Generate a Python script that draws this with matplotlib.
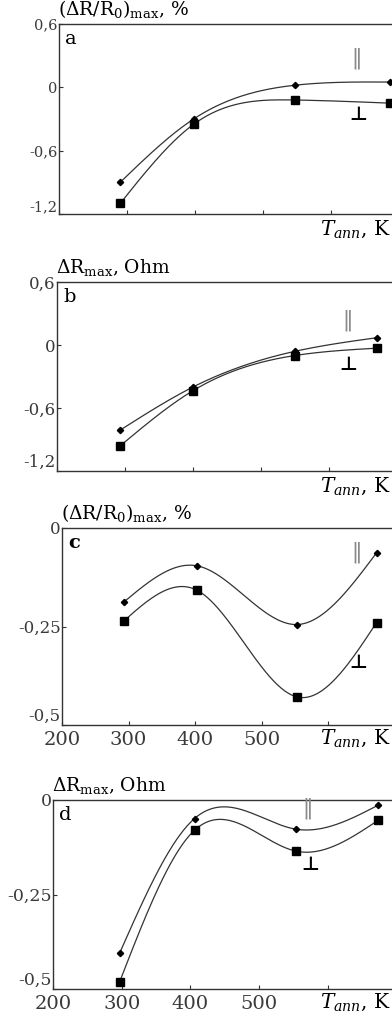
"""
Annealing temperature dependence of max magnetoresistance, four stacked panels.
"""

import numpy as np
import matplotlib
matplotlib.use("Agg")
import matplotlib.pyplot as plt

plt.rcParams["font.family"] = ["DejaVu Serif", "DejaVu Sans"]
plt.rcParams["mathtext.fontset"] = "dejavuserif"

# annealing temperatures, K (read per panel)
t_a = [290, 398, 547, 687]
t_b = [293, 400, 550, 671]
t_c = [293, 403, 554, 673]
t_d = [297, 406, 553, 673]

# parallel (||) and perpendicular (_|_) series
par_a = [-0.90, -0.30, 0.02, 0.05]
perp_a = [-1.10, -0.35, -0.12, -0.15]
par_b = [-0.81, -0.40, -0.06, 0.07]
perp_b = [-0.96, -0.435, -0.10, -0.03]
par_c = [-0.188, -0.096, -0.245, -0.063]
perp_c = [-0.236, -0.158, -0.429, -0.240]
par_d = [-0.405, -0.049, -0.077, -0.014]
perp_d = [-0.481, -0.080, -0.135, -0.054]

ylabels = [r"$(\Delta\mathrm{R/R_0})_{\mathrm{max}}$, %",
           r"$\Delta\mathrm{R}_{\mathrm{max}}$, Ohm",
           r"$(\Delta\mathrm{R/R_0})_{\mathrm{max}}$, %",
           r"$\Delta\mathrm{R}_{\mathrm{max}}$, Ohm"]
panel_tags = ["a", "b", "c", "d"]
yticks_ab = [-1.2, -0.6, 0, 0.6]
yticklabels_ab = ["-1,2", "-0,6", "0", "0,6"]
yticks_cd = [-0.5, -0.25, 0]
yticklabels_cd = ["-0,5", "-0,25", "0"]
xticks = [200, 300, 400, 500, 600]
xticklabels = ["200", "300", "400", "500", ""]


def natural_spline(x, y, num=300):
    """Smooth curve through the measured points (natural cubic spline)."""
    x = np.asarray(x, float)
    y = np.asarray(y, float)
    n = len(x)
    h = np.diff(x)
    A = np.zeros((n, n))
    rhs = np.zeros(n)
    A[0, 0] = A[-1, -1] = 1.0
    for i in range(1, n - 1):
        A[i, i - 1] = h[i - 1]
        A[i, i] = 2 * (h[i - 1] + h[i])
        A[i, i + 1] = h[i]
        rhs[i] = 3 * ((y[i + 1] - y[i]) / h[i] - (y[i] - y[i - 1]) / h[i - 1])
    c = np.linalg.solve(A, rhs)
    xs = np.linspace(x[0], x[-1], num)
    idx = np.clip(np.searchsorted(x, xs) - 1, 0, n - 2)
    dx = xs - x[idx]
    b = (y[1:] - y[:-1]) / h - h * (2 * c[:-1] + c[1:]) / 3
    d = (c[1:] - c[:-1]) / (3 * h)
    ys = y[idx] + b[idx] * dx + c[idx] * dx ** 2 + d[idx] * dx ** 3
    return xs, ys


W, H = 392, 1025
fig = plt.figure(figsize=(W / 100, H / 100), dpi=100)

# pixel geometry: left, top, bottom, px per 100 K
geom = [(59, 24, 214, 68.0), (57, 282, 471, 68.0),
        (62, 528, 725, 66.5), (53, 800, 989, 68.7)]
series = [(t_a, par_a, perp_a), (t_b, par_b, perp_b),
          (t_c, par_c, perp_c), (t_d, par_d, perp_d)]
sym_pos = [((357, 58), (358, 114)), ((348, 320), (348, 365)),
           ((357, 552), (358, 663)), ((308, 808), (310, 865))]
ytick_size = [10.5, 12, 12, 12.5]
xtick_size = 14

line_col = "#333333"
for k, ((left, top, bottom, ppx), (t, par, perp)) in enumerate(zip(geom, series)):
    right = W + 8
    ax = fig.add_axes([left / W, 1 - bottom / H, (right - left) / W, (bottom - top) / H])
    ax.set_xlim(200, 200 + (right - left) / ppx * 100)
    if k < 2:
        ax.set_ylim(-1.2, 0.6)
        ax.set_yticks(yticks_ab)
        ax.set_yticklabels(yticklabels_ab)
    else:
        ax.set_ylim(-0.5, 0)
        ax.set_yticks(yticks_cd)
        ax.set_yticklabels(yticklabels_cd)
    ax.set_xticks(xticks)
    if k >= 2:
        ax.set_xticklabels(xticklabels)
    else:
        ax.set_xticklabels([""] * len(xticks))

    for s in ax.spines.values():
        s.set_color(line_col)
        s.set_linewidth(1.0)
    ax.tick_params(direction="in", length=3, width=0.8, colors=line_col,
                   labelcolor="#3a3a3a", pad=2)
    ax.tick_params(axis="y", labelsize=ytick_size[k], pad=1)
    ax.tick_params(axis="x", labelsize=xtick_size, pad=4)
    # lowest y label sits just above the bottom spine
    ax.get_yticklabels()[0].set_va("bottom")

    xs, ys = natural_spline(t, par)
    ax.plot(xs, ys, color=line_col, lw=0.9)
    ax.plot(t, par, "D", color="black", ms=3.2, lw=0)
    xs, ys = natural_spline(t, perp)
    ax.plot(xs, ys, color=line_col, lw=0.9)
    ax.plot(t, perp, "s", color="black", ms=5.5, lw=0)

    ax.text(0.018, 0.97, panel_tags[k], transform=ax.transAxes, ha="left",
            va="top", fontsize=14, fontweight="bold" if k == 2 else "normal")
    fig.text(left / W - 0.002, 1 - (top - 4) / H, ylabels[k], ha="left",
             va="bottom", fontsize=13.5)
    lbl_y = bottom + 15 if k < 2 else bottom + 13
    fig.text(391 / W, 1 - lbl_y / H, r"$T_{ann}$, K", ha="right", va="center",
             fontsize=14.5)

    (px, py), (qx, qy) = sym_pos[k]
    fig.text(px / W, 1 - py / H, "\u2016", ha="center", va="center",
             fontsize=15, color="#8a8a8a", family=["DejaVu Sans"])
    fig.text(qx / W, 1 - qy / H, "\u22a5", ha="center", va="center",
             fontsize=14, color="black", fontweight="bold",
             family=["DejaVu Sans"])

fig.savefig("out.png", dpi=100)
